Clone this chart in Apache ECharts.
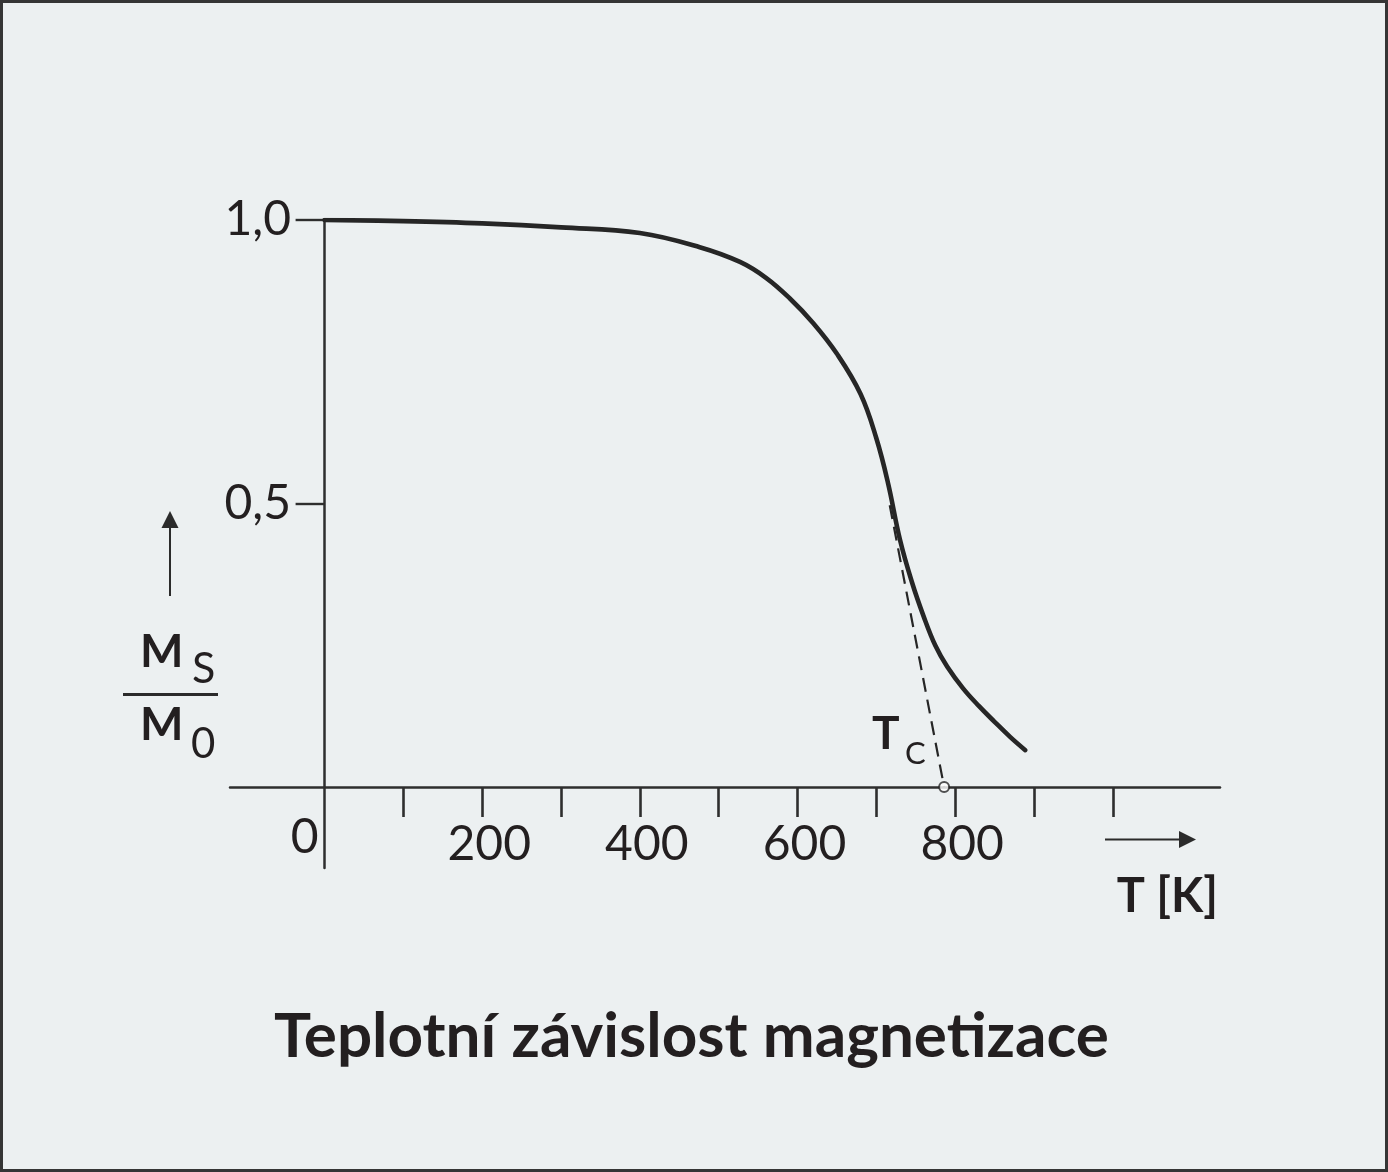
<!DOCTYPE html>
<html>
<head>
<meta charset="utf-8">
<script src="https://cdn.jsdelivr.net/npm/echarts@6/dist/echarts.min.js"></script>
<style>
html,body{margin:0;padding:0;background:#ecf0f1;}
#c{width:1388px;height:1172px;}
</style>
</head>
<body>
<div id="c"></div>
<script>
// Data
const temps = [0, 100, 200, 300, 400, 476, 527, 560, 590, 620, 650, 680, 700, 715, 730, 745, 760, 775, 790, 810, 830, 850, 870, 889];
const magnet = [1.000, 0.998, 0.994, 0.987, 0.977, 0.952, 0.926, 0.898, 0.862, 0.818, 0.764, 0.693, 0.615, 0.535, 0.436, 0.362, 0.301, 0.249, 0.212, 0.174, 0.143, 0.115, 0.088, 0.065];
const tangentT = [717, 786];
const tangentM = [0.497, 0];
const curieT = 786;
const xTicks = [100, 200, 300, 400, 500, 600, 700, 800, 900, 1000];
const xTickLabels = [0, 200, 400, 600, 800];
const yTicks = [0.5, 1.0];
const titleText = 'Teplotní závislost magnetizace';

const ink = '#231f20';
const axisInk = '#2e2e2e';
const bg = '#ecf0f1';
const FONT = 'Lato';

const chart = echarts.init(document.getElementById('c'), null, {renderer: 'canvas'});

const curveData = temps.map((t, i) => [t, magnet[i]]);
const tangentData = tangentT.map((t, i) => [t, tangentM[i]]);

chart.setOption({
  backgroundColor: bg,
  animation: false,
  textStyle: {fontFamily: FONT},
  grid: {left: 230, right: 168, top: 220, bottom: 304, containLabel: false},
  xAxis: {
    type: 'value',
    min: -120,
    max: 1136,
    axisLine: {show: true, onZero: true, lineStyle: {color: axisInk, width: 2.5}},
    axisTick: {show: true, customValues: xTicks, length: 30, lineStyle: {color: axisInk, width: 2.6}},
    axisLabel: {
      show: true,
      customValues: xTickLabels,
      margin: -47,
      color: ink,
      fontFamily: FONT,
      fontSize: 48,
      formatter: v => v === 0 ? '{z|0}' : '{n|' + v + '}',
      rich: {
        n: {fontFamily: FONT, fontSize: 48, lineHeight: 48, color: ink, padding: [0, 0, 0, 14]},
        z: {fontFamily: FONT, fontSize: 48, lineHeight: 34, color: ink, padding: [0, 40, 0, 0]}
      }
    },
    splitLine: {show: false}
  },
  yAxis: {
    type: 'value',
    min: -81 / 567,
    max: 1,
    axisLine: {show: true, onZero: true, lineStyle: {color: axisInk, width: 2.5}},
    axisTick: {show: true, customValues: yTicks, length: 29, lineStyle: {color: axisInk, width: 2.4}},
    axisLabel: {
      show: true,
      customValues: yTicks,
      margin: -61,
      color: ink,
      fontFamily: FONT,
      fontSize: 48,
      formatter: v => v.toFixed(1).replace('.', ',')
    },
    splitLine: {show: false}
  },
  series: [
    {
      type: 'line',
      data: curveData,
      smooth: 0.4,
      symbol: 'none',
      lineStyle: {color: '#262626', width: 4.6, cap: 'round', join: 'round'},
      z: 5
    },
    {
      type: 'line',
      data: tangentData,
      symbol: 'none',
      lineStyle: {color: '#262626', width: 2.2, type: [14, 8]},
      z: 4
    },
    {
      type: 'scatter',
      data: [[curieT, 0]],
      symbol: 'circle',
      symbolSize: 10,
      itemStyle: {color: '#ffffff', borderColor: '#262626', borderWidth: 2},
      z: 6
    }
  ],
  graphic: [
    {type: 'rect', shape: {x: 1.5, y: 1.5, width: 1385, height: 1169}, style: {fill: null, stroke: '#353535', lineWidth: 3}, silent: true},
    // y-axis quantity: Ms / M0 with up arrow
    {type: 'line', shape: {x1: 170, y1: 596, x2: 170, y2: 526}, style: {stroke: '#2b2b2b', lineWidth: 2}},
    {type: 'polygon', shape: {points: [[170, 511], [161.5, 528], [178.5, 528]]}, style: {fill: '#2b2b2b'}},
    {type: 'text', style: {text: 'M', x: 140, y: 652, fontFamily: FONT, fontWeight: 'bold', fontSize: 46, fill: ink, align: 'left', verticalAlign: 'middle'}},
    {type: 'text', style: {text: 'S', x: 192, y: 669, fontFamily: FONT, fontSize: 43, fill: ink, align: 'left', verticalAlign: 'middle'}},
    {type: 'line', shape: {x1: 123, y1: 694.5, x2: 218, y2: 694.5}, style: {stroke: '#2b2b2b', lineWidth: 3}},
    {type: 'text', style: {text: 'M', x: 140, y: 725, fontFamily: FONT, fontWeight: 'bold', fontSize: 46, fill: ink, align: 'left', verticalAlign: 'middle'}},
    {type: 'text', style: {text: '0', x: 191, y: 744, fontFamily: FONT, fontSize: 42, fill: ink, align: 'left', verticalAlign: 'middle'}},
    // x-axis quantity: arrow and T [K]
    {type: 'line', shape: {x1: 1105, y1: 839.5, x2: 1182, y2: 839.5}, style: {stroke: '#2b2b2b', lineWidth: 2}},
    {type: 'polygon', shape: {points: [[1196, 839.5], [1179, 831], [1179, 848]]}, style: {fill: '#2b2b2b'}},
    {type: 'text', style: {text: 'T [K]', x: 1218, y: 897, fontFamily: FONT, fontWeight: 'bold', fontSize: 47, fill: ink, align: 'right', verticalAlign: 'middle'}},
    // Tc label
    {type: 'text', style: {text: 'T', x: 872, y: 734, fontFamily: FONT, fontWeight: 'bold', fontSize: 46, fill: ink, align: 'left', verticalAlign: 'middle'}},
    {type: 'text', style: {text: 'C', x: 905, y: 754, fontFamily: FONT, fontSize: 31, fill: ink, align: 'left', verticalAlign: 'middle'}},
    // Title
    {type: 'text', style: {text: titleText, x: 691.5, y: 1037, fontFamily: FONT, fontWeight: 'bold', fontSize: 62, fill: ink, align: 'center', verticalAlign: 'middle'}}
  ]
});
</script>
</body>
</html>
